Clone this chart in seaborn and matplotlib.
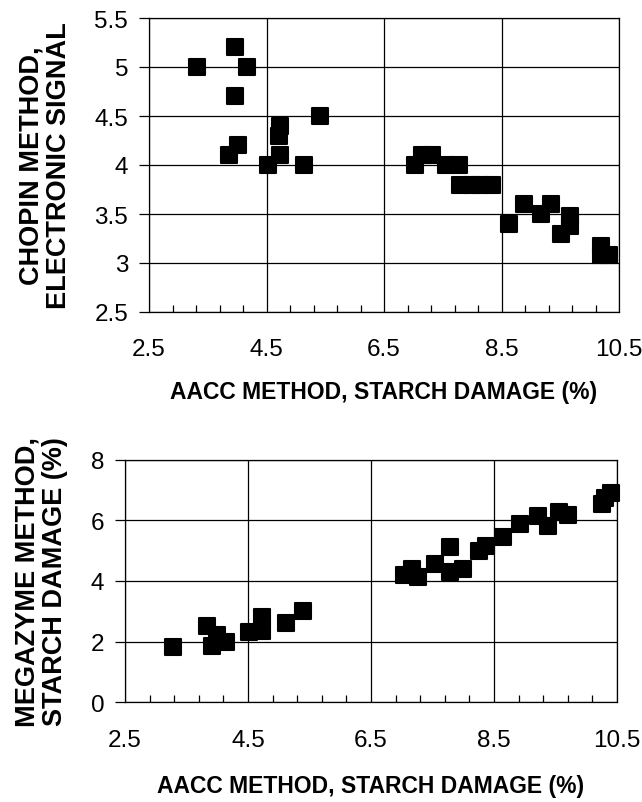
import numpy as np
import pandas as pd
import matplotlib
matplotlib.use("Agg")
import matplotlib.pyplot as plt
import seaborn as sns
from matplotlib.ticker import AutoMinorLocator

sns.set_theme(style="white")
plt.rcParams['font.family'] = ['Liberation Sans', 'DejaVu Sans']

# Top panel: AACC vs Chopin electronic signal
aacc_top = [3.31, 3.96, 4.17, 3.96, 5.41, 4.73, 4.72, 4.01, 3.86, 4.73, 4.53, 5.13,
            7.03, 7.15, 7.32, 7.55, 7.77, 7.8, 8.0, 8.15, 8.33,
            8.89, 8.63, 9.18, 9.34, 9.66, 9.66, 9.51, 10.2, 10.2, 10.33]
chopin = [5.0, 5.2, 5.0, 4.7, 4.5, 4.4, 4.3, 4.2, 4.1, 4.1, 4.0, 4.0,
          4.0, 4.1, 4.1, 4.0, 4.0, 3.8, 3.8, 3.8, 3.8,
          3.6, 3.4, 3.5, 3.6, 3.48, 3.38, 3.3, 3.17, 3.08, 3.08]

# Bottom panel: AACC vs Megazyme
aacc_bot = [3.28, 3.84, 3.99, 3.92, 4.15, 4.52, 4.72, 4.72, 5.12, 5.40,
            7.03, 7.16, 7.27, 7.54, 7.78, 7.78, 8.0, 8.26, 8.37, 8.65,
            8.92, 9.22, 9.38, 9.55, 9.71, 10.25, 10.3, 10.4]
megazyme = [1.83, 2.5, 2.22, 1.87, 2.0, 2.31, 2.8, 2.36, 2.61, 3.0,
            4.2, 4.39, 4.12, 4.56, 5.11, 4.29, 4.39, 4.98, 5.16, 5.46,
            5.88, 6.15, 5.82, 6.28, 6.17, 6.55, 6.75, 6.9]

x_ticks = [2.5, 4.5, 6.5, 8.5, 10.5]
x_tick_labels = ["2.5", "4.5", "6.5", "8.5", "10.5"]
top_y_ticks = [2.5, 3, 3.5, 4, 4.5, 5, 5.5]
top_y_labels = ["2.5", "3", "3.5", "4", "4.5", "5", "5.5"]
bot_y_ticks = [0, 2, 4, 6, 8]
bot_y_labels = ["0", "2", "4", "6", "8"]

W, H = 642, 803
fig = plt.figure(figsize=(W / 100, H / 100), dpi=100)

ax1 = fig.add_axes([149 / W, 1 - 313 / H, (619 - 149) / W, (313 - 19) / H])
ax2 = fig.add_axes([125 / W, 1 - 703.3 / H, (617 - 125) / W, (703.3 - 460.7) / H])

df1 = pd.DataFrame({"x": aacc_top, "y": chopin})
df2 = pd.DataFrame({"x": aacc_bot, "y": megazyme})

panels = [
    (ax1, df1, top_y_ticks, top_y_labels, (2.5, 5.5), "CHOPIN METHOD,\nELECTRONIC SIGNAL", 13, 14, 16),
    (ax2, df2, bot_y_ticks, bot_y_labels, (0, 8), "MEGAZYME METHOD,\nSTARCH DAMAGE (%)", 13, 17, 16),
]
for ax, df, yt, yl, ylim, ylabel, tpad, xlpad, ylpad in panels:
    sns.scatterplot(data=df, x="x", y="y", ax=ax, marker="s", s=135, color="black",
                    edgecolor="black", linewidth=1.5, zorder=3, clip_on=False)
    ax.set_xlim(2.5, 10.5)
    ax.set_ylim(*ylim)
    ax.set_xticks(x_ticks)
    ax.set_xticklabels(x_tick_labels)
    ax.set_yticks(yt)
    ax.set_yticklabels(yl)
    ax.xaxis.set_minor_locator(AutoMinorLocator(5))
    ax.grid(True, which="major", color="black", linewidth=0.9)
    for s in ax.spines.values():
        s.set_color("black")
        s.set_linewidth(0.9)
    ax.tick_params(axis="x", which="major", direction="inout", length=12, width=0.9,
                   labelsize=17.5, pad=tpad, colors="black")
    ax.tick_params(axis="x", which="minor", direction="in", length=5, width=0.9,
                   bottom=True, colors="black")
    ax.tick_params(axis="y", which="major", direction="out", length=7, width=0.9,
                   labelsize=17.5, pad=8, colors="black", left=True)
    ax.set_xlabel("AACC METHOD, STARCH DAMAGE (%)", fontsize=16.5, fontweight="bold",
                  labelpad=xlpad, color="black")
    ax.set_ylabel(ylabel, fontsize=19.5, fontweight="bold", color="black",
                  linespacing=1.1, labelpad=ylpad)

fig.savefig("out.png", dpi=100, facecolor="white")
